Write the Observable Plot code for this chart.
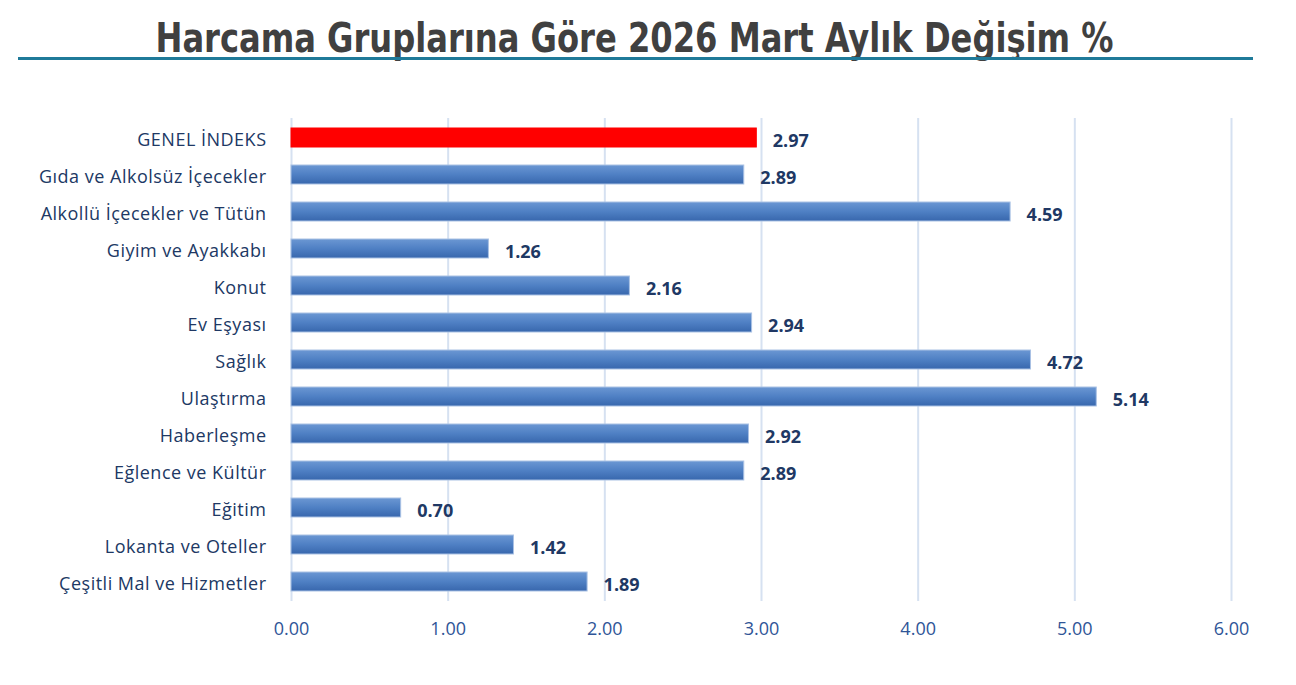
<!DOCTYPE html>
<html>
<head>
<meta charset="utf-8">
<script src="https://cdn.jsdelivr.net/npm/d3@7"></script>
<script src="https://cdn.jsdelivr.net/npm/@observablehq/plot@0.6"></script>
<style>
  html, body { margin: 0; padding: 0; background: #fff; }
  body { width: 1296px; height: 685px; position: relative; overflow: hidden; font-family: "Open Sans", Lato, sans-serif; }
  #title { position: absolute; left: 0; top: 14px; width: 1270px; text-align: center; line-height: 48px; }
  #title span { display: inline-block; font-family: "Liberation Sans Narrow", "DejaVu Sans Condensed", sans-serif; font-weight: bold; font-size: 41px; line-height: 48px; color: #404040; transform-origin: center; white-space: nowrap; }
  #rule { position: absolute; left: 18px; top: 57px; width: 1235px; height: 3px; background: #1f7a99; }
  #chart { position: absolute; left: 0; top: 70px; }
  #chart svg g[aria-label="y-axis tick label"] text { letter-spacing: 0.5px; }
</style>
</head>
<body>
<div id="title"><span id="tt">Harcama Gruplarına Göre 2026 Mart Aylık Değişim %</span></div>
<div id="rule"></div>
<div id="chart"></div>
<script>
const categories = [
  "GENEL İNDEKS",
  "Gıda ve Alkolsüz İçecekler",
  "Alkollü İçecekler ve Tütün",
  "Giyim ve Ayakkabı",
  "Konut",
  "Ev Eşyası",
  "Sağlık",
  "Ulaştırma",
  "Haberleşme",
  "Eğlence ve Kültür",
  "Eğitim",
  "Lokanta ve Oteller",
  "Çeşitli Mal ve Hizmetler"
];
const values = [2.97, 2.89, 4.59, 1.26, 2.16, 2.94, 4.72, 5.14, 2.92, 2.89, 0.70, 1.42, 1.89];
const xTicks = [0, 1, 2, 3, 4, 5, 6];
const highlight = "GENEL İNDEKS";

const data = categories.map((c, i) => ({cat: c, value: values[i]}));

const defs = () => {
  const d = d3.create("svg:defs");
  d.html(`<linearGradient id="blueGrad" x1="0" y1="0" x2="0" y2="1">
    <stop offset="0" stop-color="#6b97d3"/>
    <stop offset="0.5" stop-color="#4f80c4"/>
    <stop offset="1" stop-color="#3867ad"/>
  </linearGradient>`);
  return d.node();
};

const chart = Plot.plot({
  width: 1296,
  height: 615,
  marginLeft: 291,
  marginRight: 65,
  marginTop: 48,
  marginBottom: 84,
  style: {fontFamily: "'Open Sans', Lato, sans-serif", background: "#fff"},
  x: {domain: [0, 6], ticks: xTicks, tickFormat: d => d.toFixed(2), label: null},
  y: {domain: categories, paddingInner: 0.48, paddingOuter: 0.225, label: null},
  color: {type: "identity"},
  marks: [
    defs,
    Plot.gridX(xTicks, {stroke: "#d6e1f1", strokeOpacity: 1, strokeWidth: 2}),
    Plot.barX(data, {
      y: "cat", x: "value",
      fill: d => d.cat === highlight ? "#ff0000" : "url(#blueGrad)",
      stroke: d => d.cat === highlight ? "#ff0000" : "#a9c1e4",
      strokeWidth: 1
    }),
    Plot.text(data, {
      y: "cat", x: "value", text: d => d.value.toFixed(2),
      dx: 16, dy: 3, textAnchor: "start",
      fontWeight: "bold", fontSize: 18, fill: "#203864"
    }),
    Plot.axisX({ticks: xTicks, tickFormat: d => d.toFixed(2), tickSize: 0, tickPadding: 21, fontSize: 18, fill: "#2f5597", label: null}),
    Plot.axisY({tickSize: 0, tickPadding: 25, fontSize: 18, dy: 2, fill: "#203864", label: null})
  ]
});
document.getElementById("chart").appendChild(chart);

const tt = document.getElementById("tt");
const w = tt.getBoundingClientRect().width;
tt.style.transform = `scaleX(${958 / w})`;
</script>
</body>
</html>
